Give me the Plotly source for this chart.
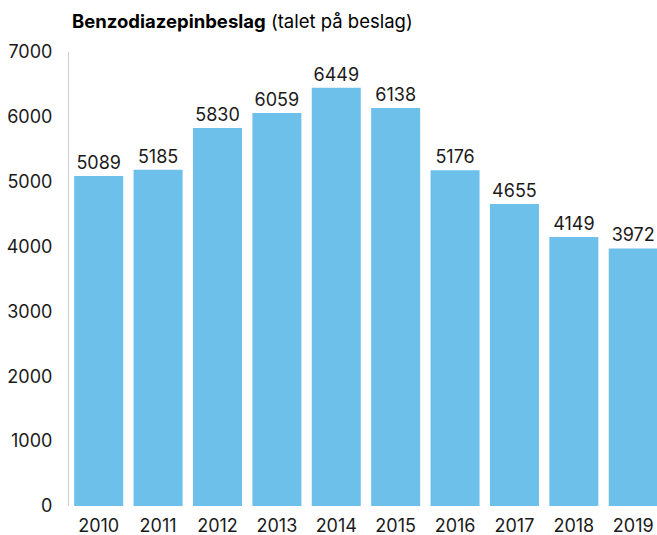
import plotly.graph_objects as go

# data
years = ['2010', '2011', '2012', '2013', '2014', '2015', '2016', '2017', '2018', '2019']
seizures = [5089, 5185, 5830, 6059, 6449, 6138, 5176, 4655, 4149, 3972]
y_ticks = [0, 1000, 2000, 3000, 4000, 5000, 6000, 7000]

font_family = 'Inter, Roboto, Arial, sans-serif'
text_col = '#1a1a1a'

fig = go.Figure()
fig.add_trace(go.Bar(x=years,
                     y=seizures,
                     marker=dict(color='#6cc0ea', line=dict(width=0)),
                     text=seizures,
                     textposition='outside',
                     textfont=dict(size=18, color=text_col, family=font_family),
                     cliponaxis=False,
                     hovertemplate='%{x}: %{y}<extra></extra>'))

fig.update_layout(
    width=657, height=535,
    margin=dict(l=69, r=0, t=52, b=29),
    plot_bgcolor='white',
    paper_bgcolor='white',
    bargap=0.175,
    showlegend=False,
    font=dict(family=font_family, size=18, color=text_col),
    title=dict(text='<b>Benzodiazepinbeslag</b> (talet på beslag)',
               x=72 / 657, xanchor='left', xref='container',
               y=1 - 22 / 535, yanchor='middle', yref='container',
               font=dict(size=18.5, color='#000000', family=font_family)),
)
fig.update_xaxes(type='category', range=[-0.5, 9.4], showline=False,
                 showgrid=False, ticks='', ticklabelstandoff=7,
                 automargin=False, tickfont=dict(size=18))
fig.update_yaxes(range=[0, 7000], tickvals=y_ticks, showgrid=False,
                 zeroline=False, showline=True, linecolor='#cccccc', linewidth=1,
                 ticks='', ticklabelstandoff=12, automargin=False,
                 tickfont=dict(size=18))

# drop the browser's default body margin so the figure fills the window
fig.write_html('out.html',
               config={'displayModeBar': False},
               post_script="document.body.style.margin='0';"
                           "document.body.style.overflow='hidden';")
